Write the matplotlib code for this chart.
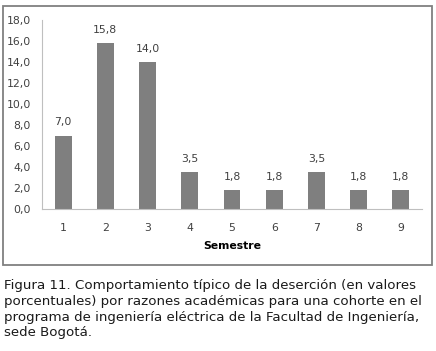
import numpy as np
import matplotlib
matplotlib.use('Agg')
import matplotlib.pyplot as plt
from matplotlib.patches import Rectangle

# desercion por semestre (%)
semestres = ['1', '2', '3', '4', '5', '6', '7', '8', '9']
valores = [7.0, 15.8, 14.0, 3.5, 1.8, 1.8, 3.5, 1.8, 1.8]
yticks = [0, 2, 4, 6, 8, 10, 12, 14, 16, 18]

caption = ('Figura 11. Comportamiento típico de la deserción (en valores\n'
           'porcentuales) por razones académicas para una cohorte en el\n'
           'programa de ingeniería eléctrica de la Facultad de Ingeniería,\n'
           'sede Bogotá.')

def coma(v):
    return f'{v:.1f}'.replace('.', ',')

fig = plt.figure(figsize=(4.36, 3.51), dpi=100)
W, H = 436, 351

# chart frame
fig.patches.append(Rectangle((2.5 / W, 1 - 265 / H), 429.5 / W, 259.5 / H,
                             transform=fig.transFigure, fill=False,
                             edgecolor='#808080', linewidth=1.3))

ax = fig.add_axes([42 / W, 1 - 209 / H, 380 / W, 189 / H])
x = np.arange(len(semestres))
bars = ax.bar(x, valores, width=0.4, color='#7f7f7f')
for xi, v in zip(x, valores):
    ax.text(xi, v + 0.8, coma(v), ha='center', va='bottom',
            fontsize=7.8, color='#404040', family='DejaVu Sans')

ax.set_xlim(-0.5, len(semestres) - 0.5)
ax.set_ylim(0, 18)
ax.set_yticks(yticks)
ax.set_yticklabels([coma(t) for t in yticks])
ax.set_xticks(x)
ax.set_xticklabels(semestres)
ax.tick_params(length=0, labelsize=7.8, labelcolor='#404040')
ax.tick_params(axis='x', pad=10)
ax.tick_params(axis='y', pad=8)
ax.spines['top'].set_visible(False)
ax.spines['right'].set_visible(False)
ax.spines['left'].set_color('#bfbfbf')
ax.spines['bottom'].set_color('#bfbfbf')
ax.set_xlabel('Semestre', fontsize=7.8, fontweight='bold', labelpad=6,
              family='DejaVu Sans')

fig.text(4 / W, 1 - 279 / H, caption, ha='left', va='top', fontsize=9.6,
         linespacing=1.28, color='#1a1a1a', family='DejaVu Sans')

fig.savefig('out.png', dpi=100)
